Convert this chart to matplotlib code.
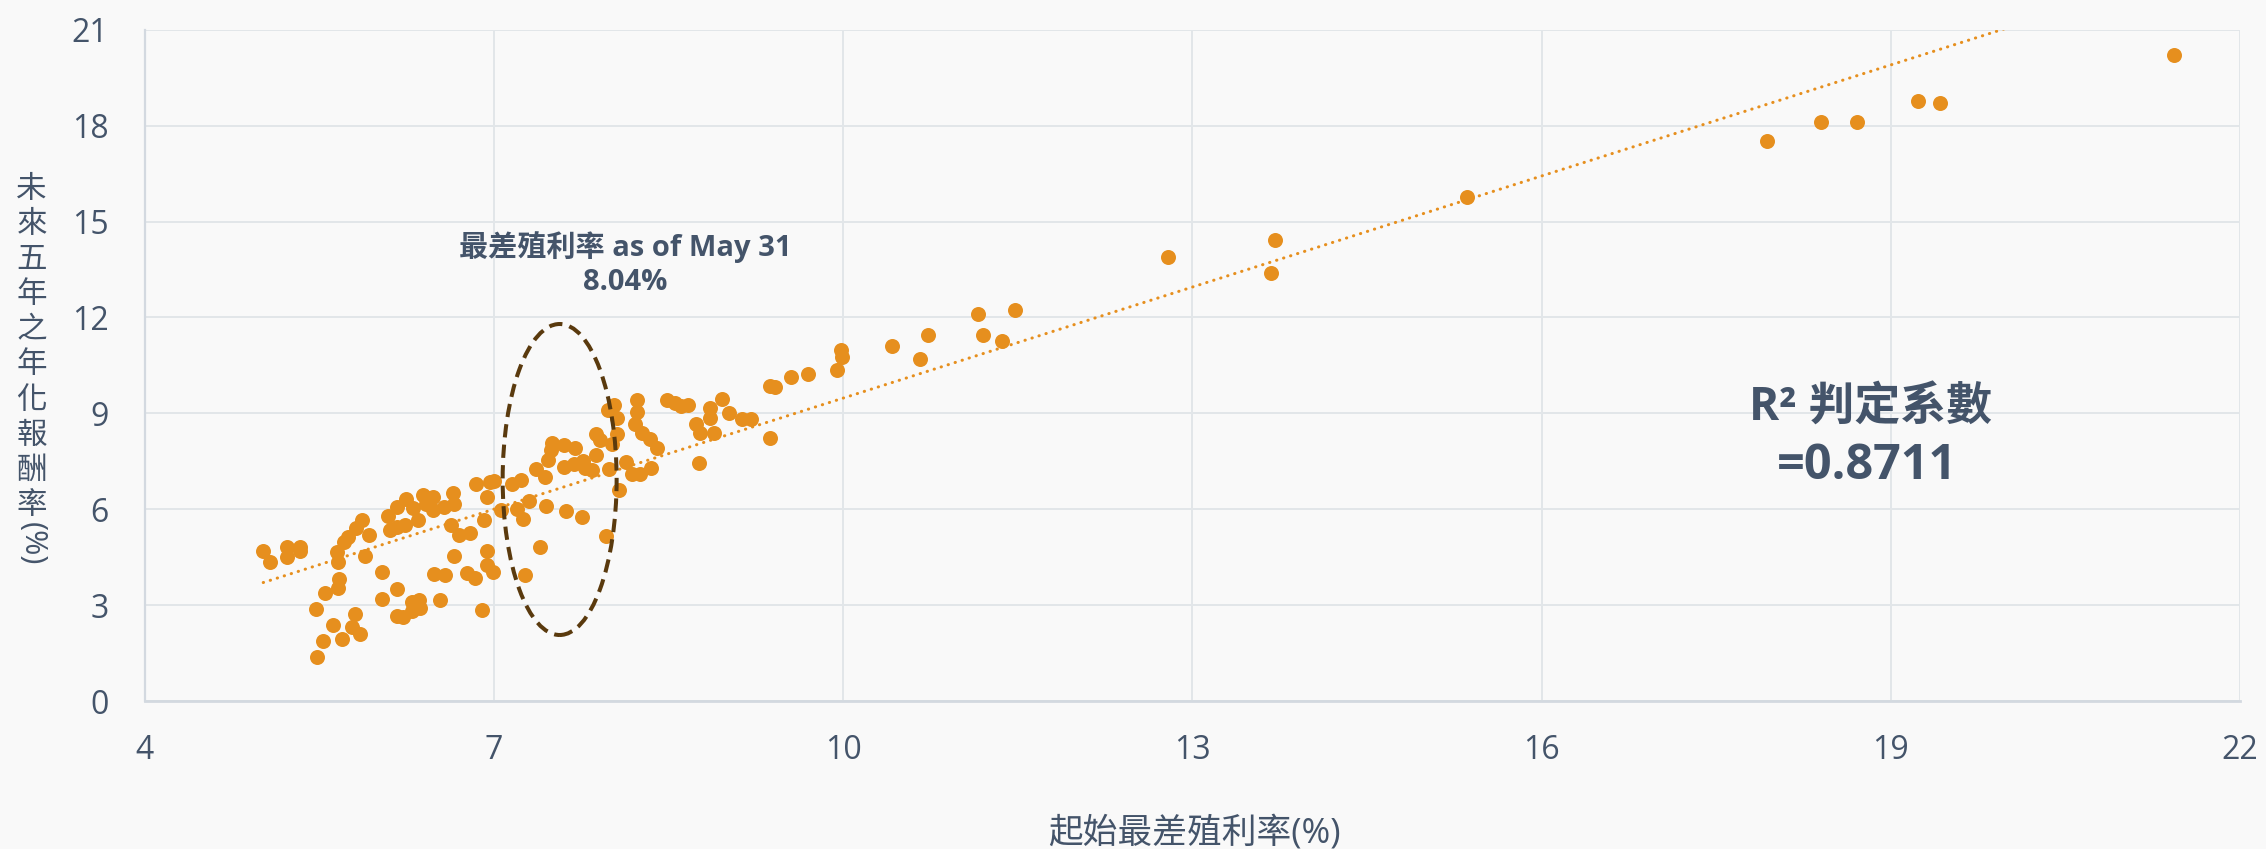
import numpy as np
import matplotlib
matplotlib.use("Agg")
import matplotlib.pyplot as plt
from matplotlib.patches import Ellipse

# Starting yield-to-worst (%) vs. annualized return over the following five years (%)
start_ytw = [
    5.02, 5.08, 5.22, 5.22, 5.34, 5.34, 5.65, 5.66, 5.71, 5.75, 5.82, 5.87, 5.93, 5.89,
    5.67, 5.66, 5.55, 5.47, 5.62, 5.81, 5.78, 5.85, 5.70, 5.53, 5.48,
    6.04, 6.04, 6.17, 6.17, 6.22, 6.30, 6.36, 6.30, 6.37, 6.54, 6.49, 6.58, 6.66, 6.77,
    6.84, 6.94, 6.94, 6.99, 6.90, 7.27, 7.40, 7.96,
    6.09, 6.11, 6.17, 6.17, 6.25, 6.24, 6.35, 6.31, 6.39, 6.45, 6.48, 6.48, 6.42, 6.57,
    6.65, 6.66, 6.63, 6.70, 6.80, 6.92, 6.85, 6.97, 7.00, 6.94, 7.06, 7.16, 7.23, 7.20,
    7.25, 7.30, 7.36, 7.44, 7.45, 7.62, 7.76, 7.47, 7.49, 7.50, 7.60, 7.70, 7.60, 7.69,
    7.77, 7.78, 7.84, 7.88, 7.88, 7.91, 7.98, 8.03, 8.06, 8.06, 8.02, 7.99, 8.08, 8.14,
    8.19, 8.26, 8.35, 8.23, 8.23, 8.21, 8.27, 8.34, 8.40, 8.49, 8.56, 8.61, 8.67, 8.74,
    8.77, 8.76, 8.86, 8.86, 8.89, 8.96, 9.02, 9.13, 9.21, 9.37, 9.37, 9.42, 9.55, 9.70,
    9.95, 9.98, 9.99, 10.42, 10.66, 10.73, 11.16, 11.20, 11.37, 11.48,
    12.79, 13.71, 13.68, 15.36, 17.94, 18.40, 18.71, 19.23, 19.42, 21.43,
]
fwd_5y_return = [
    4.70, 4.36, 4.83, 4.52, 4.83, 4.70, 4.67, 4.36, 4.99, 5.12, 5.40, 5.67, 5.19, 4.53,
    3.81, 3.52, 3.39, 2.89, 2.39, 2.73, 2.30, 2.10, 1.93, 1.87, 1.37,
    4.03, 3.18, 3.50, 2.67, 2.64, 3.11, 3.17, 2.82, 2.90, 3.16, 3.98, 3.94, 4.55, 4.01,
    3.86, 4.69, 4.26, 4.04, 2.85, 3.94, 4.83, 5.16,
    5.79, 5.35, 5.45, 6.06, 6.33, 5.52, 5.65, 6.03, 6.45, 6.34, 6.39, 5.99, 6.17, 6.08,
    6.50, 6.15, 5.51, 5.19, 5.25, 5.67, 6.79, 6.84, 6.88, 6.39, 5.97, 6.80, 6.91, 6.02,
    5.70, 6.25, 7.27, 7.00, 6.11, 5.94, 5.76, 7.54, 7.85, 8.06, 8.01, 7.91, 7.33, 7.41,
    7.51, 7.28, 7.23, 7.70, 8.35, 8.17, 9.10, 9.26, 8.85, 8.35, 8.04, 7.25, 6.60, 7.49,
    7.10, 7.09, 7.28, 9.42, 9.05, 8.66, 8.39, 8.19, 7.93, 9.41, 9.31, 9.24, 9.27, 8.67,
    8.40, 7.46, 9.16, 8.85, 8.38, 9.45, 9.00, 8.83, 8.83, 8.23, 9.86, 9.83, 10.14, 10.22,
    10.36, 10.98, 10.75, 11.12, 10.69, 11.44, 12.12, 11.45, 11.25, 12.23,
    13.88, 14.42, 13.38, 15.78, 17.52, 18.12, 18.10, 18.76, 18.70, 20.20,
]
x_ticks = [4, 7, 10, 13, 16, 19, 22]
y_ticks = [0, 3, 6, 9, 12, 15, 18, 21]

ytw_note = "最差殖利率 as of May 31"
ytw_value = "8.04%"
r2_title = "R² 判定系數"
r2_value = "=0.8711"
x_title = "起始最差殖利率(%)"
y_title_chars = list("未來五年之年化報酬率")
y_title_unit = "(%)"

DOT = "#E68F1E"
TEXT = "#44546A"
GRID = "#E2E6E9"
BG = "#F9F9F9"
RING = "#5A3A0E"

plt.rcParams["font.family"] = ["Open Sans", "Noto Sans CJK TC", "DejaVu Sans"]

W, H, DPI = 2266, 849, 100
fig = plt.figure(figsize=(W / DPI, H / DPI), dpi=DPI, facecolor=BG)
ax = fig.add_axes([144.5 / W, 1 - 701 / H, (2240 - 144.5) / W, (701 - 29.8) / H])
ax.set_facecolor(BG)

x = np.array(start_ytw)
y = np.array(fwd_5y_return)

ax.plot(x, y, linestyle="none", marker="o", markersize=10.8,
        markerfacecolor=DOT, markeredgewidth=0, zorder=3)

# linear trend line over the data range
slope, intercept = np.polyfit(x, y, 1)
xs = np.array([x.min(), x.max()])
ax.plot(xs, slope * xs + intercept, color=DOT, linewidth=2.2,
        linestyle=(0, (0.1, 2.3)), dash_capstyle="round", zorder=4)

ax.add_patch(Ellipse((7.566, 6.93), 0.979, 9.73, fill=False, edgecolor=RING,
                     linewidth=2.9, linestyle=(0, (3.3, 1.8)), zorder=5))

ax.set_xlim(x_ticks[0], x_ticks[-1])
ax.set_ylim(y_ticks[0], y_ticks[-1])
ax.set_xticks(x_ticks)
ax.set_yticks(y_ticks)
ax.grid(True, color=GRID, linewidth=1.4, zorder=0)
ax.set_axisbelow(True)
ax.tick_params(length=0, labelsize=23, labelcolor=TEXT)
ax.tick_params(axis="y", pad=26)
ax.tick_params(axis="x", pad=24)
for side in ("top", "right"):
    ax.spines[side].set_visible(False)
ax.spines["left"].set_color("#D3D9E0")
ax.spines["left"].set_linewidth(1.6)
ax.spines["bottom"].set_color("#D3D9E0")
ax.spines["bottom"].set_linewidth(2.0)

# annotation for the current yield
ax.text(8.13, 21 - (246.7 - 29.8) / 31.96, ytw_note, ha="center", va="center",
        fontsize=21, fontweight="bold", color=TEXT)
ax.text(8.13, 21 - (282.7 - 29.8) / 31.96, ytw_value, ha="center", va="center",
        fontsize=21, fontweight="bold", color=TEXT)

# coefficient of determination
ax.text(18.83, 21 - (408 - 29.8) / 31.96, r2_title, ha="center", va="center",
        fontsize=33, fontweight="bold", color=TEXT)
ax.text(18.80, 21 - (466 - 29.8) / 31.96, r2_value, ha="center", va="center",
        fontsize=35, fontweight="bold", color=TEXT)

# axis titles
fig.text(1194 / W, 1 - 833 / H, x_title, ha="center", va="center",
         fontsize=25, color=TEXT)
for i, ch in enumerate(y_title_chars):
    fig.text(31.7 / W, 1 - (189.5 + i * 35.2) / H, ch, ha="center", va="center",
             fontsize=22, color=TEXT)
fig.text(31.7 / W, 1 - 544 / H, y_title_unit, ha="center", va="center",
         fontsize=22, color=TEXT, rotation=270)

fig.savefig("out.png", dpi=DPI, facecolor=BG)
